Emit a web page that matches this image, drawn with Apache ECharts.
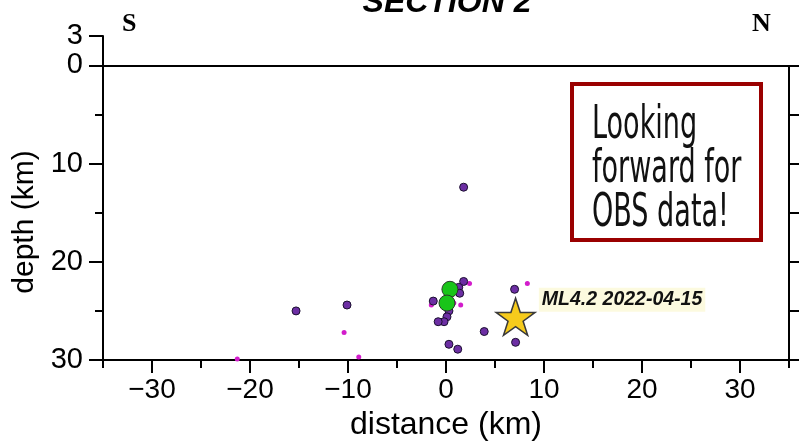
<!DOCTYPE html>
<html>
<head>
<meta charset="utf-8">
<script src="https://cdn.jsdelivr.net/npm/echarts@6/dist/echarts.min.js"></script>
<style>
  html, body { margin: 0; padding: 0; background: #fff; }
  #chart { width: 801px; height: 443px; }
</style>
</head>
<body>
<div id="chart"></div>
<script>
// [distance (km), depth (km)]
const relocated = [
  [1.8, 12.4], [1.8, 22.0], [1.3, 22.6], [1.4, 23.2], [-1.3, 24.0],
  [0.3, 25.0], [0.1, 25.6], [-0.2, 26.1], [-0.8, 26.1], [3.9, 27.1],
  [0.3, 28.4], [1.2, 28.9], [7.0, 22.8], [7.1, 28.2], [-15.3, 25.0],
  [-10.1, 24.4]
];
const catalog = [
  [2.4, 22.2], [8.3, 22.2], [-1.5, 24.4], [1.5, 24.4], [0.8, 24.2],
  [-10.4, 27.2], [-8.9, 29.7], [-21.3, 29.9]
];
const largeEvents = [[0.4, 22.8], [0.1, 24.2]];
const mainShock = [[7.1, 25.6]];
const mainShockLabel = 'ML4.2 2022-04-15';

const xMajor = [-30, -20, -10, 0, 10, 20, 30];
const xMinor = [-35, -25, -15, -5, 5, 15, 25, 35];
const yMajor = [-3, 0, 10, 20, 30];
const yMinor = [5, 15, 25];
const yRight = [0, 5, 10, 15, 20, 25, 30];

const black = '#000';
const starPath = 'path://M50,0 L61.8,35.1 L98.9,35.1 L68.9,56.8 L80.3,91.9 L50,70.2 L19.7,91.9 L31.1,56.8 L1.1,35.1 L38.2,35.1 Z';

const chart = echarts.init(document.getElementById('chart'));

// 坐标轴公共部分
const hidden = { show: false };
function xAxisOf(ticks, len, withLabel) {
  return {
    type: 'value', min: -35, max: 35, position: 'bottom',
    axisLine: { show: withLabel, onZero: false, lineStyle: { color: black, width: 2 } },
    axisTick: { show: true, customValues: ticks, length: len, lineStyle: { color: black, width: 2 } },
    axisLabel: withLabel ? {
      customValues: ticks, color: black, fontSize: 28, margin: 16,
      fontFamily: 'Liberation Sans',
      formatter: v => (v < 0 ? '\u2212' + Math.abs(v) : String(v))
    } : hidden,
    splitLine: hidden
  };
}
function yAxisOf(ticks, len, pos, withLabel) {
  return {
    type: 'value', min: -3, max: 30, inverse: true, position: pos,
    axisLine: { show: withLabel, onZero: false, lineStyle: { color: black, width: 2 } },
    axisTick: { show: true, customValues: ticks, length: len, lineStyle: { color: black, width: 2 } },
    axisLabel: withLabel ? {
      customValues: ticks, color: black, fontSize: 29, margin: 20,
      fontFamily: 'Liberation Sans',
      formatter: v => String(Math.abs(v))
    } : hidden,
    splitLine: hidden
  };
}

const xMain = xAxisOf(xMajor, 13, true);
xMain.name = 'distance (km)';
xMain.nameLocation = 'middle';
xMain.nameGap = 49;
xMain.nameTextStyle = { color: black, fontSize: 32, fontFamily: 'Liberation Sans' };

const yMain = yAxisOf(yMajor, 14, 'left', true);
yMain.name = 'depth (km)';
yMain.nameLocation = 'middle';
yMain.nameRotate = 90;
yMain.nameGap = 60;
// 让轴名中心落在 0~30 km 的中间
yMain.nameTextStyle = { color: black, fontSize: 30, fontFamily: 'Liberation Sans', padding: [0, 48, 0, 0] };

const option = {
  animation: false,
  backgroundColor: '#fff',
  grid: { left: 103, right: 12, top: 36, bottom: 83, outerBoundsMode: 'none' },
  xAxis: [xMain, xAxisOf(xMinor, 8, false)],
  yAxis: [yMain, yAxisOf(yMinor, 8, 'left', false), yAxisOf(yRight, 10, 'right', false)],
  series: [
    {
      // 剖面框线
      type: 'scatter', data: [], silent: true,
      markLine: {
        silent: true, symbol: 'none', animation: false,
        label: { show: false },
        lineStyle: { color: black, width: 2, type: 'solid' },
        data: [
          [{ coord: [-35, 0] }, { coord: [35, 0] }],
          [{ coord: [35, 0] }, { coord: [35, 30] }]
        ]
      }
    },
    {
      type: 'scatter', data: catalog, symbolSize: 5,
      itemStyle: { color: '#d21ccb', opacity: 1 }
    },
    {
      type: 'scatter', data: relocated, symbolSize: 8,
      itemStyle: { color: '#6c2ea3', borderColor: '#1b1030', borderWidth: 1, opacity: 1 }
    },
    {
      type: 'scatter', data: largeEvents, symbolSize: 16,
      itemStyle: { color: '#19c419', borderColor: '#2a3a2a', borderWidth: 1, opacity: 1 }
    },
    {
      type: 'scatter', data: mainShock, symbol: starPath, symbolSize: [39, 37],
      itemStyle: { color: '#f6cb1c', borderColor: '#3a3a3a', borderWidth: 1.5, opacity: 1 },
      label: {
        show: true, position: 'right', distance: 3, offset: [0, -17],
        formatter: mainShockLabel,
        color: '#111', fontSize: 19.5, fontWeight: 'bold', fontStyle: 'italic',
        fontFamily: 'Liberation Sans',
        backgroundColor: '#fcfadf', padding: [2, 3]
      }
    }
  ],
  graphic: [
    {
      type: 'text', x: 447, y: -13,
      style: { text: 'SECTION 2', font: 'italic bold 32px "Liberation Sans"', fill: black, align: 'center' }
    },
    {
      type: 'text', x: 122, y: 11,
      style: { text: 'S', font: 'bold 26px "Liberation Serif"', fill: black }
    },
    {
      type: 'text', x: 752, y: 11,
      style: { text: 'N', font: 'bold 26px "Liberation Serif"', fill: black }
    },
    {
      type: 'rect', shape: { x: 572, y: 84, width: 189, height: 156 },
      style: { fill: '#fff', stroke: '#9a0000', lineWidth: 4 }
    },
    {
      type: 'text', x: 592, y: 104, scaleX: 0.64,
      style: {
        text: 'Looking\nforward for\nOBS data!',
        font: '47px "Liberation Sans Narrow", "DejaVu Sans Condensed", sans-serif',
        lineHeight: 44, fill: '#111'
      }
    }
  ]
};

chart.setOption(option);
</script>
</body>
</html>
